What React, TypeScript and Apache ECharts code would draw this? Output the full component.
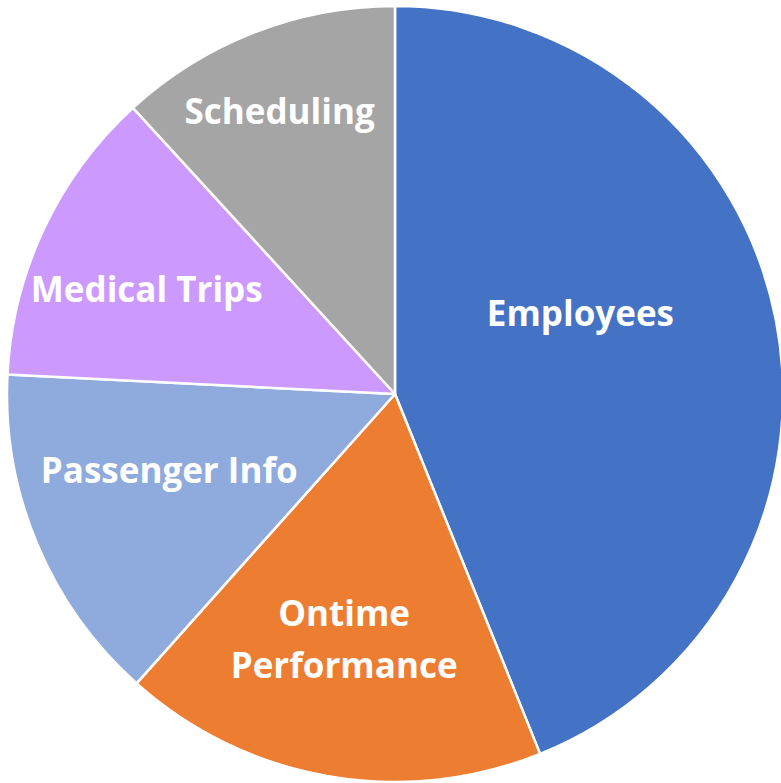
import React, { useEffect, useRef } from "react";
import * as echarts from "echarts";

const categories = ["Employees", "Ontime\nPerformance", "Passenger Info", "Medical Trips", "Scheduling"];
const values = [43.9, 17.7, 14.2, 12.4, 11.8];
const colors = ["#4472C4", "#ED7D31", "#8FAADC", "#CC99FF", "#A5A5A5"];
const labelOffsets = [
  [-8, -44],
  [-17, 50],
  [-44, 0],
  [-70, -22],
  [-44, -100],
];

export default function App() {
  const ref = useRef<HTMLDivElement>(null);
  useEffect(() => {
    const chart = echarts.init(ref.current!, null, { renderer: "svg" });
    chart.setOption({
      animation: false,
      backgroundColor: "#ffffff",
      series: [
        {
          type: "pie",
          center: [395, 394],
          radius: [0, 388],
          startAngle: 90,
          clockwise: true,
          avoidLabelOverlap: false,
          itemStyle: { borderColor: "#ffffff", borderWidth: 2.5 },
          label: {
            show: true,
            position: "inside",
            color: "#ffffff",
            fontFamily: "Open Sans",
            fontWeight: "bold",
            fontSize: 35,
            lineHeight: 52,
            formatter: "{b}",
          },
          labelLine: { show: false },
          labelLayout: (params: any) => {
            const o = labelOffsets[params.dataIndex] || [0, 0];
            return { dx: o[0], dy: o[1], hideOverlap: false };
          },
          emphasis: { disabled: true },
          data: categories.map((c, i) => ({
            name: c,
            value: values[i],
            itemStyle: { color: colors[i] },
          })),
        },
      ],
    });
    return () => chart.dispose();
  }, []);
  return (
    <div
      ref={ref}
      style={{ position: "fixed", left: 0, top: 0, width: 781, height: 783 }}
    />
  );
}
